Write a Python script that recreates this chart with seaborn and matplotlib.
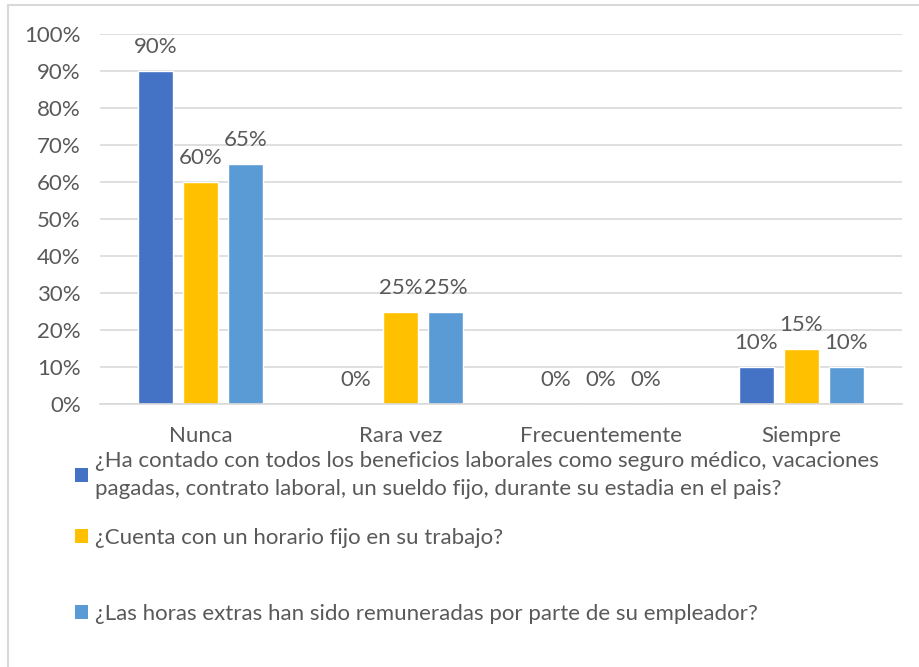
import matplotlib
matplotlib.use("Agg")
import matplotlib.pyplot as plt
import seaborn as sns
import pandas as pd
from matplotlib.patches import Patch
from matplotlib.lines import Line2D
from matplotlib.ticker import PercentFormatter

# ====================== DATA ======================
categories = ["Nunca", "Rara vez", "Frecuentemente", "Siempre"]
series_names = [
    "¿Ha contado con todos los beneficios laborales como seguro médico, vacaciones\npagadas, contrato laboral, un sueldo fijo, durante su estadia en el pais?",
    "¿Cuenta con un horario fijo en su trabajo?",
    "¿Las horas extras han sido remuneradas por parte de su empleador?",
]
beneficios = [0.90, 0.00, 0.00, 0.10]
horario = [0.60, 0.25, 0.00, 0.15]
horas_extras = [0.65, 0.25, 0.00, 0.10]
colors = ["#4472C4", "#FFC000", "#5B9BD5"]
yticks = [0, 0.1, 0.2, 0.3, 0.4, 0.5, 0.6, 0.7, 0.8, 0.9, 1.0]

df = pd.DataFrame({
    "categoria": categories * 3,
    "serie": [s for s in series_names for _ in categories],
    "valor": beneficios + horario + horas_extras,
})

sns.set_style("white")
plt.rcParams["font.family"] = ["Lato", "DejaVu Sans"]
text_col = "#595959"
fs = 16

fig = plt.figure(figsize=(9.2, 6.67), dpi=100)
ax = fig.add_axes([0.109, 0.394, 0.871, 0.555])

sns.barplot(data=df, x="categoria", y="valor", hue="serie", order=categories,
            hue_order=series_names, palette=colors, width=0.675, gap=0.22,
            saturation=1, legend=False, ax=ax)

# data labels
for cont in ax.containers:
    ax.bar_label(cont, labels=[f"{v * 100:.0f}%" for v in cont.datavalues],
                 padding=10, fontsize=fs, color=text_col)

ax.set_ylim(0, 1)
ax.set_xlim(-0.5, 3.5)
ax.set_yticks(yticks)
ax.yaxis.set_major_formatter(PercentFormatter(1.0, decimals=0))
ax.grid(axis="y", color="#D9D9D9", linewidth=1.2)
ax.set_axisbelow(True)
for s in ["top", "right", "left"]:
    ax.spines[s].set_visible(False)
ax.spines["bottom"].set_color("#D9D9D9")
ax.spines["bottom"].set_linewidth(1.2)
ax.tick_params(axis="both", length=0, labelsize=fs, labelcolor=text_col)
ax.tick_params(axis="x", pad=16)
ax.tick_params(axis="y", pad=14)
ax.set_xlabel("")
ax.set_ylabel("")

# legend: one entry per block, spaced like the original
entry_y = [1 - 475 / 667, 1 - 538 / 667, 1 - 614 / 667]
for name, c, y in zip(series_names, colors, entry_y):
    leg = fig.legend([Patch(facecolor=c, edgecolor="none")], [name], loc="center left",
                     bbox_to_anchor=(0.0815, y), frameon=False, fontsize=fs,
                     labelcolor=text_col, handlelength=0.6, handleheight=0.6,
                     handletextpad=0.3, borderaxespad=0, borderpad=0)
    leg.get_texts()[0].set_linespacing(1.45)

# outer chart border
fig.add_artist(Line2D([8 / 920, 8 / 920], [0, 1 - 5 / 667], color="#D9D9D9", linewidth=1.5))
fig.add_artist(Line2D([8 / 920, 1], [1 - 5 / 667, 1 - 5 / 667], color="#D9D9D9", linewidth=1.5))

fig.savefig("out.png", dpi=100)
